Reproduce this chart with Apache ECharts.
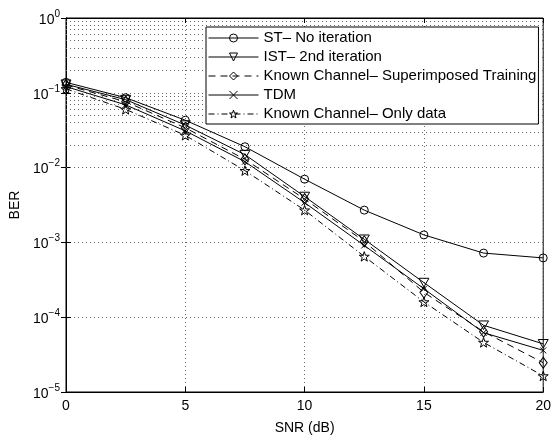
<!DOCTYPE html>
<html>
<head>
<meta charset="utf-8">
<script src="https://cdn.jsdelivr.net/npm/echarts@6/dist/echarts.min.js"></script>
<style>html,body{margin:0;padding:0;background:#fff}#c{width:554px;height:440px}</style>
</head>
<body>
<div id="c"></div>
<script>
var snr = [0, 2.5, 5, 7.5, 10, 12.5, 15, 17.5, 20];
var stNoIter  = [0.138, 0.086, 0.043, 0.019, 0.0070, 0.0027, 0.00126, 0.00072, 0.00062];
var ist2nd    = [0.130, 0.081, 0.037, 0.0149, 0.0041, 0.0011, 0.00029, 0.000078, 0.000044];
var knownST   = [0.127, 0.076, 0.034, 0.0129, 0.0038, 0.00103, 0.000215, 0.000064, 0.0000246];
var tdm       = [0.121, 0.069, 0.031, 0.0120, 0.0034, 0.00091, 0.00024, 0.000062, 0.000036];
var knownData = [0.113, 0.060, 0.027, 0.0091, 0.0027, 0.00065, 0.00016, 0.000046, 0.0000164];
var names = ['ST\u2013 No iteration', 'IST\u2013 2nd iteration', 'Known Channel\u2013 Superimposed Training', 'TDM', 'Known Channel\u2013 Only data'];
var xTicks = [0, 5, 10, 15, 20];

var FONT = 'Liberation Sans';
var minorVals = [];
for (var d = -5; d < 0; d++) for (var k = 2; k <= 9; k++) minorVals.push(k * Math.pow(10, d));

function pairs(arr) { return snr.map(function (x, i) { return [x, arr[i]]; }); }

var starPath = 'path://M5,0L6.18,3.45L9.76,3.45L6.9,5.59L7.94,9.05L5,7L2.06,9.05L3.1,5.59L0.24,3.45L3.82,3.45Z';
var triDown = 'path://M0,0L10,0L5,8.66Z';
var xPath = 'path://M0,0L10,10M10,0L0,10';

var itemStyle = { color: 'rgba(0,0,0,0)', borderColor: '#000', borderWidth: 1 };
function mk(name, data, symbol, size, dash) {
  return {
    name: name, type: 'line', data: pairs(data), symbol: symbol, symbolSize: size,
    showAllSymbol: true, symbolKeepAspect: true,
    lineStyle: { color: '#000', width: 1, type: dash },
    itemStyle: itemStyle, emphasis: { disabled: true }, z: 5
  };
}
function fmtY(v) {
  var e = Math.round(Math.log10(v));
  return '{b|10}{s|' + (e < 0 ? '\u2212' + (-e) : e) + '}';
}
var series = [
  mk(names[0], stNoIter, 'circle', 8, 'solid'),
  mk(names[1], ist2nd, triDown, 10, 'solid'),
  mk(names[2], knownST, 'diamond', [8, 11], [7, 5]),
  mk(names[3], tdm, xPath, 6, 'solid'),
  mk(names[4], knownData, starPath, 10, [6, 3, 1, 3])
];
series.push({
  type: 'line', data: [], silent: true,
  markLine: {
    silent: true, symbol: 'none', label: { show: false },
    lineStyle: { color: '#666', width: 1, type: [1, 3] },
    data: minorVals.map(function (v) { return { yAxis: v }; })
  }
});

var chart = echarts.init(document.getElementById('c'));
chart.setOption({
  animation: false,
  backgroundColor: '#fff',
  textStyle: { fontFamily: FONT },
  grid: { left: 66, right: 8, top: 18, bottom: 42, show: true, borderColor: '#000', borderWidth: 1, backgroundColor: 'transparent' },
  legend: {
    data: names, orient: 'vertical', left: 206, top: 27,
    itemWidth: 50, itemHeight: 10, itemGap: 3,
    padding: [3, 2, 2, 2],
    lineStyle: { width: 1 },
    itemStyle: { borderWidth: 1 },
    backgroundColor: '#fff', borderColor: '#000', borderWidth: 1, borderRadius: 0,
    textStyle: { fontSize: 15, lineHeight: 16, color: '#000', fontFamily: FONT }, z: 10
  },
  xAxis: [{
    type: 'value', min: 0, max: 20, interval: 5,
    name: 'SNR (dB)', nameLocation: 'middle', nameGap: 29,
    nameTextStyle: { fontSize: 14, color: '#000', fontFamily: FONT },
    axisLine: { show: true, lineStyle: { color: '#000' } },
    axisTick: { show: true, inside: true, length: 5, lineStyle: { color: '#000' } },
    axisLabel: { fontSize: 14, color: '#000', margin: 7, fontFamily: FONT, customValues: xTicks },
    splitLine: { show: true, lineStyle: { color: '#666', type: [1, 3] } }
  }, {
    type: 'value', min: 0, max: 20, interval: 5, position: 'top',
    axisLine: { show: true, lineStyle: { color: '#000' } },
    axisTick: { show: true, inside: true, length: 5, lineStyle: { color: '#000' } },
    axisLabel: { show: false }, splitLine: { show: false }
  }],
  yAxis: [{
    type: 'log', min: 1e-5, max: 1, logBase: 10,
    name: 'BER', nameLocation: 'middle', nameGap: 38,
    nameTextStyle: { fontSize: 14, color: '#000', fontFamily: FONT },
    axisLine: { show: true, lineStyle: { color: '#000' } },
    axisTick: { show: true, inside: true, length: 5, lineStyle: { color: '#000' } },
    axisLabel: {
      formatter: fmtY, margin: 6, color: '#000',
      rich: {
        b: { fontSize: 14, fontFamily: FONT, color: '#000', verticalAlign: 'bottom' },
        s: { fontSize: 10, fontFamily: FONT, color: '#000', verticalAlign: 'top', padding: [0, 0, 8, 0] }
      }
    },
    splitLine: { show: true, lineStyle: { color: '#666', type: [1, 3] } }
  }, {
    type: 'log', min: 1e-5, max: 1, logBase: 10, position: 'right',
    axisLine: { show: true, lineStyle: { color: '#000' } },
    axisTick: { show: true, inside: true, length: 5, lineStyle: { color: '#000' } },
    axisLabel: { show: false }, splitLine: { show: false }
  }],
  series: series
});
</script>
</body>
</html>
